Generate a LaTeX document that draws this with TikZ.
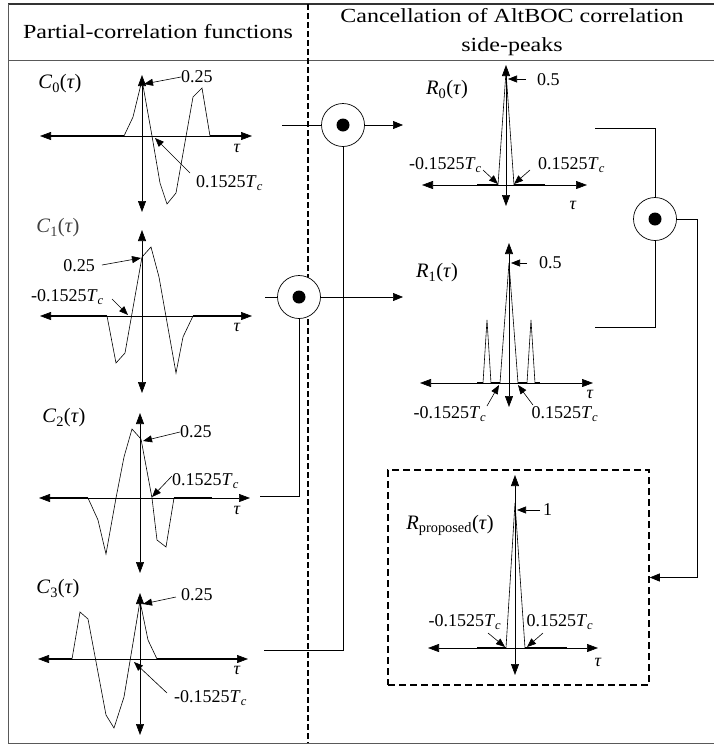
\documentclass[tikz,border=0pt]{standalone}
\usepackage{fontspec}
\setmainfont{Liberation Serif}
\newfontfamily\hdrfont[FakeStretch=1.2]{Liberation Serif}
\usetikzlibrary{arrows.meta}
\newcommand{\Tcsub}{\textit{T}\textsubscript{\textit{c}}}
\newcommand{\tauv}{\textit{τ}}
\begin{document}
\begin{tikzpicture}[x=1pt,y=-1pt,
  axis/.style={line width=0.6pt,{Triangle[length=11pt,width=8pt]}-{Triangle[length=11pt,width=8pt]}},
  crv/.style={line width=0.6pt,line join=miter},
  flat/.style={line width=1.5pt},
  lbl/.style={font=\fontsize{18}{21}\selectfont,inner sep=0pt},
  fname/.style={font=\fontsize{20.5}{24}\selectfont,inner sep=0pt},
  ptr/.style={line width=0.6pt,-{Triangle[length=9pt,width=7pt]}},
  mult/.style={circle,draw,fill=white,line width=0.7pt,minimum size=43pt,inner sep=0pt},
  conn/.style={line width=0.7pt},
  carrow/.style={line width=0.7pt,-{Triangle[length=10pt,width=8pt]}},
  hdr/.style={font=\hdrfont\fontsize{20}{29}\selectfont,align=center,inner sep=0pt}]
\useasboundingbox (0,0) rectangle (714,745);

% frame
\draw[line width=1.2pt,black!80] (8,4) -- (714,4);
\draw[line width=1pt,black!65] (8,60) -- (714,60);
\draw[line width=1pt,black!65] (8,4) -- (8,743) -- (714,743);
\draw[line width=1.3pt,dash pattern=on 6pt off 3pt] (308,4) -- (308,743);

% headers
\node[hdr] (h1) at (158,32) {Partial-correlation functions};
\node[hdr] (h2) at (512,32) {Cancellation of AltBOC correlation\\side-peaks};

% ---------- C0 ----------
\draw[axis] (40,136) -- (252,136);
\draw[axis] (142,75) -- (142,212);
\draw[flat] (50,136) -- (124,136) (210,136) -- (242,136);
\draw[crv] (124,136) -- (133,117) -- (142,80) -- (152,136) -- (160,183) -- (167,204) -- (176,193) -- (193,97) -- (202,88) -- (210,136);
\node[fname] (c0l) at (60,84) {\textit{C}\textsubscript{0}(\tauv)};
\node[lbl,anchor=west] (c0a) at (181,77) {0.25};
\draw[ptr] (c0a.west) -- (144,84);
\node[lbl,anchor=west] (c0b) at (196,183) {0.1525\Tcsub};
\draw[ptr] (190,173) -- (155,138);
\node[lbl] (c0t) at (237,148) {\tauv};

% ---------- C1 ----------
\draw[axis] (40,316) -- (252,316);
\draw[axis] (142,230) -- (142,393);
\draw[flat] (50,316) -- (107,316) (193,316) -- (242,316);
\draw[crv] (107,316) -- (116,363) -- (125,353) -- (142,257) -- (151,247) -- (159,277) -- (176,373) -- (183,337) -- (193,316);
\node[fname,text=black!75] (c1l) at (58,228) {\textit{C}\textsubscript{1}(\tauv)};
\node[lbl,anchor=east] (c1a) at (95,266) {0.25};
\draw[ptr] (102,265) -- (141,258);
\node[lbl,anchor=east] (c1b) at (104,297) {-0.1525\Tcsub};
\draw[ptr] (112,299) -- (128,315);
\node[lbl] (c1t) at (237,327) {\tauv};

% ---------- C2 ----------
\draw[axis] (39,498) -- (250,498);
\draw[axis] (140,413) -- (140,573);
\draw[flat] (49,498) -- (88,498) (174,498) -- (212,498);
\draw[crv] (88,498) -- (98,520) -- (106,554) -- (116,498) -- (124,457) -- (132,429) -- (141,439) -- (152,498) -- (157,540) -- (166,547) -- (174,498);
\node[fname] (c2l) at (64,418) {\textit{C}\textsubscript{2}(\tauv)};
\node[lbl,anchor=west] (c2a) at (180,432) {0.25};
\draw[ptr] (c2a.west) -- (143,441);
\node[lbl,anchor=west] (c2b) at (172,481) {0.1525\Tcsub};
\draw[ptr] (172,476) -- (152,497);
\node[lbl] (c2t) at (237,510) {\tauv};

% ---------- C3 ----------
\draw[axis] (38,659) -- (248,659);
\draw[axis] (140,593) -- (140,735);
\draw[flat] (48,659) -- (72,659) (157,659) -- (238,659);
\draw[crv] (72,659) -- (80,612) -- (88,619) -- (106,715) -- (114,728) -- (124,697) -- (140,601) -- (148,640) -- (157,659);
\node[fname] (c3l) at (58,589) {\textit{C}\textsubscript{3}(\tauv)};
\node[lbl,anchor=west] (c3a) at (181,595) {0.25};
\draw[ptr] (176,597) -- (143,604);
\node[lbl,anchor=west] (c3b) at (174,698) {-0.1525\Tcsub};
\draw[ptr] (167,693) -- (134,662);
\node[lbl] (c3t) at (237,670) {\tauv};

% ---------- R0 ----------
\draw[axis] (422,185) -- (587,185);
\draw[axis] (506,65) -- (506,206);
\draw[flat] (477,185) -- (498,185) (514,185) -- (545,185);
\draw[crv] (498,185) -- (506,72) -- (514,185);
\node[fname] (r0l) at (447,90) {\textit{R}\textsubscript{0}(\tauv)};
\node[lbl,anchor=west] (r0a) at (537,80) {0.5};
\draw[ptr] (526,79) -- (508,79);
\node[lbl,anchor=east] (r0b) at (482,165) {-0.1525\Tcsub};
\draw[ptr] (483,170) -- (498,184);
\node[lbl,anchor=west] (r0c) at (538,165) {0.1525\Tcsub};
\draw[ptr] (530,170) -- (514,184);
\node[lbl] (r0t) at (573,205) {\tauv};

% ---------- R1 ----------
\draw[axis] (420,383) -- (593,383);
\draw[axis] (509,243) -- (509,407);
\draw[flat] (477,383) -- (483,383) (491,383) -- (500,383) (518,383) -- (527,383) (535,383) -- (540,383);
\draw[crv] (500,383) -- (509,263) -- (518,383);
\draw[crv] (483,383) -- (487,320) -- (491,383);
\draw[crv] (527,383) -- (531,320) -- (535,383);
\node[fname] (r1l) at (437,273) {\textit{R}\textsubscript{1}(\tauv)};
\node[lbl,anchor=west] (r1a) at (539,263) {0.5};
\draw[ptr] (527,263) -- (511,263);
\node[lbl] (r1b) at (450,414) {-0.1525\Tcsub};
\draw[ptr] (487,406) -- (499,385);
\node[lbl] (r1c) at (565,414) {0.1525\Tcsub};
\draw[ptr] (533,405) -- (518,385);
\node[lbl] (r1t) at (590,394) {\tauv};

% ---------- R proposed ----------
\node[draw,line width=1.5pt,dash pattern=on 7pt off 4pt,minimum width=261pt,minimum height=215pt,inner sep=0pt] (box) at (518.5,577.5) {};
\draw[axis] (428,648) -- (598,648);
\draw[axis] (515,475) -- (515,675);
\draw[flat] (477,648) -- (506,648) (525,648) -- (567,648);
\draw[crv] (506,648) -- (515,503) -- (525,648);
\node[fname] (rpl) at (450,525) {\textit{R}\textsubscript{proposed}(\tauv)};
\node[lbl,anchor=west] (rpa) at (543,510) {1};
\draw[ptr] (540,510) -- (517,510);
\node[lbl] (rpb) at (465,622) {-0.1525\Tcsub};
\draw[ptr] (488,633) -- (505,647);
\node[lbl] (rpc) at (560,622) {0.1525\Tcsub};
\draw[ptr] (543,633) -- (527,647);
\node[lbl] (rpt) at (598,662) {\tauv};

% ---------- connectors ----------
\coordinate (c0o) at (282,125);
\coordinate (c1o) at (265,297);
\coordinate (c2o) at (260,496);
\coordinate (c3o) at (264,650);
\coordinate (r0i) at (403,125);
\coordinate (r1i) at (403,297);
\coordinate (r0o) at (595,128);
\coordinate (r1o) at (595,327);
\coordinate (bend) at (697,219);
\coordinate (m1c) at (343,125);
\coordinate (m2c) at (299,297);
\coordinate (m3c) at (655,219);

\draw[conn] (c3o) -| (m1c);
\draw[conn] (c2o) -| (m2c);
\draw[conn] (r0o) -| (m3c);
\draw[conn] (r1o) -| (m3c);

% ---------- multipliers ----------
\node[mult] (m1) at (m1c) {};
\node[mult] (m2) at (m2c) {};
\node[mult] (m3) at (m3c) {};
\fill (m1.center) circle (6.5pt);
\fill (m2.center) circle (6.5pt);
\fill (m3.center) circle (6.5pt);

\draw[conn] (c0o) -- (m1.west);
\draw[conn] (c1o) -- (m2.west);
\draw[carrow] (m1.east) -- (r0i);
\draw[carrow] (m2.east) -- (r1i);
\draw[carrow] (m3.east) -- (bend) |- (box.east);
\end{tikzpicture}
\end{document}
